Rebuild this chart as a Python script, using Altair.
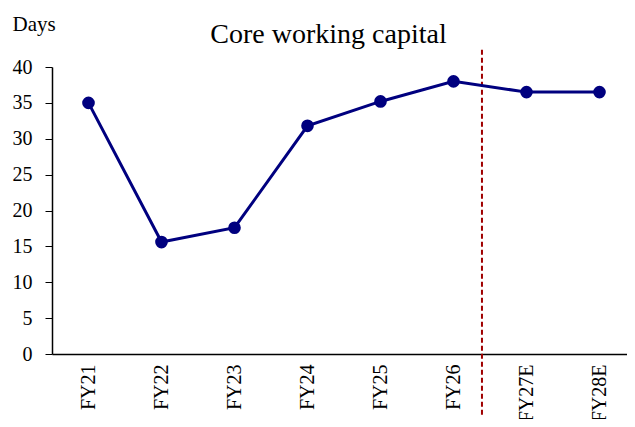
import altair as alt
import pandas as pd

years = ["FY21", "FY22", "FY23", "FY24", "FY25", "FY26", "FY27E", "FY28E"]
days = [35.0, 15.6, 17.6, 31.8, 35.2, 38.0, 36.5, 36.5]
y_ticks = [0, 5, 10, 15, 20, 25, 30, 35, 40]

divider_after = ["FY26"]
divider_top = [42.4]
divider_bottom = [-8.9]

df = pd.DataFrame({"year": years, "days": days})
rule_df = pd.DataFrame({"year": divider_after, "days": divider_top, "bottom": divider_bottom})

FONT = "Liberation Serif"

x_scale = alt.Scale(domain=years, paddingInner=0, paddingOuter=0, range=[0, 584])
y_scale = alt.Scale(domain=[0, 40], nice=False)

x_axis = alt.Axis(
    title=None,
    labelAngle=270,
    labelAlign="right",
    labelBaseline="middle",
    labelFont=FONT,
    labelFontSize=20,
    labelColor="#000000",
    labelPadding=10,
    labelOverlap=False,
    ticks=False,
    domainColor="#000000",
    domainWidth=1.5,
)

y_axis = alt.Axis(
    title="Days",
    titleAngle=0,
    titleX=-40,
    titleY=-43,
    titleAlign="left",
    titleBaseline="middle",
    titleFont=FONT,
    titleFontSize=21,
    titleFontWeight="normal",
    titleColor="#000000",
    values=y_ticks,
    labelFont=FONT,
    labelFontSize=20,
    labelColor="#000000",
    labelPadding=13,
    labelOverlap=False,
    tickSize=7,
    tickColor="#000000",
    domainColor="#000000",
    domainWidth=1.5,
    grid=False,
)

x_enc = alt.X("year:N", sort=years, scale=x_scale, axis=x_axis)
y_enc = alt.Y("days:Q", scale=y_scale, axis=y_axis)

line = alt.Chart(df).mark_line(color="#00007F", strokeWidth=3).encode(x=x_enc, y=y_enc)
pts = alt.Chart(df).mark_circle(color="#00007F", size=160, opacity=1).encode(x=x_enc, y=y_enc)

rule = alt.Chart(rule_df).mark_rule(color="#A00000", strokeDash=[5, 3], strokeWidth=2, clip=False).encode(
    x=alt.X("year:N", sort=years, scale=x_scale, axis=x_axis, bandPosition=0.89),
    y=alt.Y("days:Q", scale=y_scale, axis=y_axis),
    y2="bottom:Q",
)

chart = alt.layer(rule, line, pts).properties(
    width=575,
    height=287,
    padding={"left": 44, "top": 59, "right": 0, "bottom": 65},
    autosize=alt.AutoSizeParams(type="none"),
    title=alt.TitleParams(
        "Core working capital",
        font=FONT,
        fontSize=28,
        fontWeight="normal",
        color="#000000",
        anchor="middle",
        dx=-11,
        offset=-36,
    ),
).configure_view(stroke=None)

chart.save("out.html", embed_options={"renderer": "svg", "actions": False})
